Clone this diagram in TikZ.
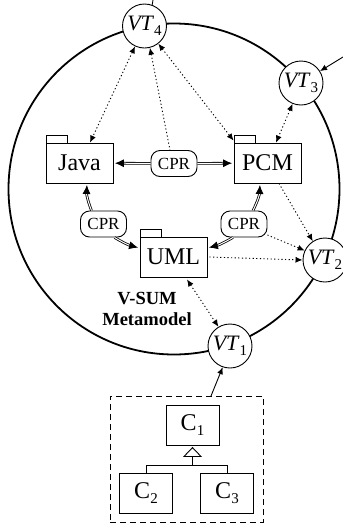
\documentclass[tikz,border=0pt]{standalone}
\usepackage{fontspec}
\setmainfont{Liberation Serif}
\usetikzlibrary{arrows.meta,calc}
\newcommand{\lowsub}[1]{\raisebox{-.22em}{\fontsize{15}{15}\selectfont #1}}
\tikzset{
  x=1pt,y=-1pt,
  vt/.style={circle,draw,fill=white,line width=.9pt,minimum size=44pt,inner sep=0pt,font=\fontsize{22}{24}\selectfont},
  pkg/.style={rectangle,draw,fill=white,line width=.9pt,minimum width=67pt,minimum height=40pt,inner sep=0pt,font=\fontsize{24}{28}\selectfont},
  tabbox/.style={rectangle,draw,fill=white,line width=.9pt,minimum width=21pt,minimum height=8pt,inner sep=0pt},
  cpr/.style={rectangle,rounded corners=9pt,draw,fill=white,line width=.9pt,minimum width=46pt,minimum height=26pt,inner sep=0pt,font=\fontsize{17}{20}\selectfont},
  cls/.style={rectangle,draw,line width=.9pt,minimum width=53pt,minimum height=40pt,inner sep=0pt,font=\fontsize{24}{26}\selectfont},
  dots/.style={line width=.9pt,dash pattern=on 1.2pt off 2.4pt},
  dbl/.style={double,double distance=1pt,line width=.8pt,-{Latex[length=9pt,width=8pt]},shorten >=1.5pt},
  plain/.style={line width=.9pt}
}
\begin{document}
\begin{tikzpicture}
\useasboundingbox (0,0) rectangle (343,523);
\node[circle,draw,line width=1.8pt,minimum size=331pt,inner sep=0pt] (sum) at (174,189) {};
\node[vt] (vtfour) at (144.5,26) {\textit{VT}\lowsub{4}};
\node[vt] (vtthree) at (301,83) {\textit{VT}\lowsub{3}};
\node[vt] (vttwo) at (325,260) {\textit{VT}\lowsub{2}};
\node[vt] (vtone) at (230,346) {\textit{VT}\lowsub{1}};
\node[tabbox] (javatab) at (56.5,139) {};
\node[tabbox] (pcmtab) at (244.5,139) {};
\node[tabbox] (umltab) at (150.5,233) {};
\node[pkg] (java) at (79.5,163) {Java};
\node[pkg] (pcm) at (267.5,163) {PCM};
\node[pkg] (uml) at (173.5,257) {UML};
\node[cpr] (cprt) at (174,163.5) {CPR};
\node[cpr] (cprl) at (103.5,224) {CPR};
\node[cpr] (cprr) at (244,224) {CPR};
\node[font=\fontsize{18.5}{21}\selectfont\bfseries,align=center,inner sep=0pt] (label) at (147,308.5) {V-SUM\\Metamodel};
\draw[dbl] (cprt) -- (java);
\draw[dbl] (cprt) -- (pcm);
\draw[dbl] ([xshift=-12pt]cprl.north) to[bend left=12] ([xshift=7.5pt]java.south);
\draw[dbl] ([xshift=11pt]cprl.south) to[bend right=8] ([yshift=9pt]uml.west);
\draw[dbl] ([xshift=9pt]cprr.north) to[bend right=12] ([xshift=-7.5pt]pcm.south);
\draw[dbl] ([xshift=-11pt]cprr.south) to[bend left=8] ([yshift=9pt]uml.east);
\draw[dots,{Latex[length=7pt,width=6pt]}-{Latex[length=7pt,width=6pt]}] (vtfour.245) -- ([xshift=10.5pt]java.north);
\draw[dots,{Latex[length=7pt,width=6pt]}-] (vtfour.284) -- ([xshift=-4pt]cprt.north);
\draw[dots,{Latex[length=7pt,width=6pt]}-{Latex[length=7pt,width=6pt]}] (vtfour.308) -- ([yshift=2pt]pcm.north west);
\draw[dots,{Latex[length=7pt,width=6pt]}-{Latex[length=7pt,width=6pt]}] (vtthree.248) -- ([xshift=8.5pt]pcm.north);
\draw[dots,-{Latex[length=7pt,width=6pt]}] ([xshift=11.5pt]pcm.south) -- (vttwo.123);
\draw[dots,-{Latex[length=7pt,width=6pt]}] ([yshift=-11pt]cprr.east) -- (vttwo.155);
\draw[dots,-{Latex[length=7pt,width=6pt]}] ([xshift=2pt]uml.east) -- (vttwo.180);
\draw[dots,{Latex[length=7pt,width=6pt]}-{Latex[length=7pt,width=6pt]}] ([xshift=13.5pt,yshift=-2pt]uml.south) -- (vtone.121);
\coordinate (in4) at (153,0);
\coordinate (in3) at (343,57);
\draw[plain] (in4) -- (vtfour.70);
\draw[plain,-{Latex[length=7pt,width=6pt]}] (in3) -- (vtthree.32);
\node[rectangle,draw,line width=.9pt,dash pattern=on 6pt off 4pt,minimum width=153pt,minimum height=126pt,inner sep=0pt] (frame) at (186.5,459) {};
\coordinate (frameout) at (211,396);
\draw[plain,-{Latex[length=7pt,width=6pt]}] (frameout) -- (vtone.251);
\node[cls] (cone) at (192.5,425) {C\lowsub{1}};
\node[cls] (ctwo) at (146,493) {C\lowsub{2}};
\node[cls] (cthree) at (227,493) {C\lowsub{3}};
\coordinate (inh) at (192.5,465.5);
\draw[plain,-{Triangle[open,fill=white,length=10pt,width=19pt]}] (inh) -- ([yshift=-1.5pt]cone.south);
\draw[plain] (ctwo.north) -- (ctwo.north |- inh) -- (cthree.north |- inh) -- (cthree.north);
\end{tikzpicture}
\end{document}
